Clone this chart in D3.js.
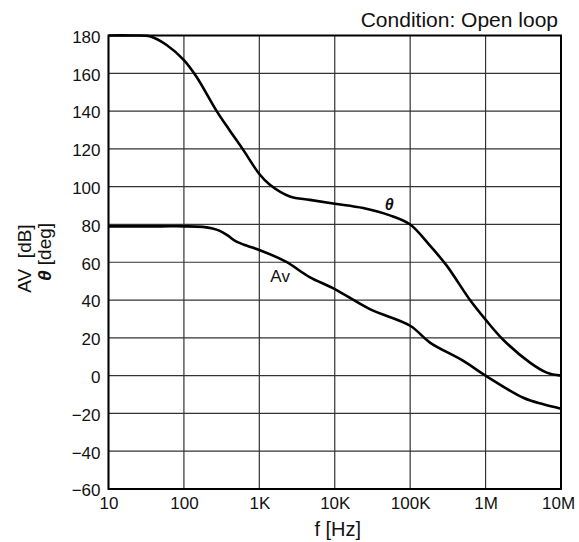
<!DOCTYPE html>
<html>
<head>
<meta charset="utf-8">
<script src="https://cdn.jsdelivr.net/npm/d3@7"></script>
<style>
  html, body { margin: 0; padding: 0; background: #fff; }
  svg { display: block; font-family: "Liberation Sans", Arial, sans-serif; }
</style>
</head>
<body>
<div id="chart"></div>
<script>
const width = 579;
const height = 542;

// phase (theta) curve, deg
const thetaFreq = [10, 20, 36, 59, 100, 146, 272, 401, 600, 1000, 1380, 2540, 4670, 10000, 23800, 53800, 100000, 183000, 305000, 622000, 1000000, 1710000, 3880000, 6470000, 10000000];
const thetaVals = [180, 180, 179.5, 175, 167, 158.3, 140, 130, 120, 106.7, 101, 94.8, 93, 91, 88.7, 84.8, 80, 68.8, 58.2, 40, 29.6, 19, 6.9, 1.6, 0];

// gain (Av) curve, dB
const avFreq = [10, 50, 100, 178, 240, 300, 380, 491, 700, 1000, 2250, 4570, 10000, 29200, 100000, 183000, 507000, 1000000, 3160000, 5840000, 10000000];
const avVals = [79, 79, 79, 78.7, 77.9, 76.6, 74.2, 71, 68.6, 66.5, 60.3, 52.3, 45.8, 35.2, 26.4, 17.5, 7.8, 0, -11.7, -15.2, -17.5];

const xTicks = [10, 100, 1000, 10000, 100000, 1000000, 10000000];
const xTickLabels = ["10", "100", "1K", "10K", "100K", "1M", "10M"];
const yTicks = [-60, -40, -20, 0, 20, 40, 60, 80, 100, 120, 140, 160, 180];

const curveLabels = [
  { text: "Av", f: 1400, v: 49.5, italic: false },
  { text: "θ", f: 46000, v: 87.4, italic: true }
];

const margin = { top: 35.5, right: 18, bottom: 53, left: 108.5 };
const iw = width - margin.left - margin.right;
const ih = height - margin.top - margin.bottom;

const svg = d3.select("#chart")
  .append("svg")
  .attr("width", width)
  .attr("height", height);

const g = svg.append("g")
  .attr("transform", `translate(${margin.left},${margin.top})`);

const x = d3.scaleLog().domain([10, 1e7]).range([0, iw]);
const y = d3.scaleLinear().domain([-60, 180]).range([ih, 0]);

// grid
g.append("g")
  .selectAll("line")
  .data(xTicks)
  .join("line")
  .attr("x1", d => x(d)).attr("x2", d => x(d))
  .attr("y1", 0).attr("y2", ih)
  .attr("stroke", "#333")
  .attr("stroke-width", 1.2);

g.append("g")
  .selectAll("line")
  .data(yTicks)
  .join("line")
  .attr("x1", 0).attr("x2", iw)
  .attr("y1", d => y(d)).attr("y2", d => y(d))
  .attr("stroke", "#333")
  .attr("stroke-width", 1.2);

// axes (labels only)
const xAxis = g.append("g")
  .attr("transform", `translate(0,${ih})`)
  .call(d3.axisBottom(x).tickValues(xTicks).tickSize(0).tickPadding(8)
    .tickFormat((d, i) => xTickLabels[i]));
xAxis.select(".domain").remove();
xAxis.selectAll("text")
  .attr("font-size", 17)
  .attr("fill", "#111")
  .attr("font-family", null);
xAxis.selectAll(".tick:last-child text").attr("dx", "-3");

const yAxis = g.append("g")
  .call(d3.axisLeft(y).tickValues(yTicks).tickSize(0).tickPadding(8));
yAxis.select(".domain").remove();
yAxis.selectAll("text")
  .attr("font-size", 17)
  .attr("fill", "#111")
  .attr("font-family", null)
  .attr("dy", "0.4em");

// frame
g.append("rect")
  .attr("width", iw)
  .attr("height", ih)
  .attr("fill", "none")
  .attr("stroke", "#000")
  .attr("stroke-width", 2);

// curves (smooth through the read points)
const line = d3.line()
  .x(d => x(d[0]))
  .y(d => y(d[1]))
  .curve(d3.curveCatmullRom.alpha(0.5));

g.append("path")
  .datum(thetaFreq.map((f, i) => [f, thetaVals[i]]))
  .attr("d", line)
  .attr("fill", "none")
  .attr("stroke", "#000")
  .attr("stroke-width", 2.6);

g.append("path")
  .datum(avFreq.map((f, i) => [f, avVals[i]]))
  .attr("d", line)
  .attr("fill", "none")
  .attr("stroke", "#000")
  .attr("stroke-width", 2.6);

g.selectAll("text.clabel")
  .data(curveLabels)
  .join("text")
  .attr("class", "clabel")
  .attr("x", d => x(d.f))
  .attr("y", d => y(d.v))
  .attr("font-size", d => d.italic ? 16 : 17)
  .attr("font-weight", d => d.italic ? "bold" : "normal")
  .attr("font-style", d => d.italic ? "italic" : "normal")
  .attr("fill", "#111")
  .text(d => d.text);

// condition note
svg.append("text")
  .attr("x", margin.left + iw - 3)
  .attr("y", 27)
  .attr("text-anchor", "end")
  .attr("font-size", 21)
  .attr("fill", "#111")
  .text("Condition: Open loop");

// x label
svg.append("text")
  .attr("x", margin.left + iw / 2 + 3)
  .attr("y", 536)
  .attr("text-anchor", "middle")
  .attr("font-size", 20)
  .attr("fill", "#111")
  .text("f [Hz]");

// y label (two lines, rotated)
svg.append("text")
  .attr("transform", "translate(31,258.5) rotate(-90)")
  .attr("text-anchor", "middle")
  .attr("font-size", 19)
  .attr("fill", "#111")
  .text("AV\u00a0\u00a0[dB]");

const yl2 = svg.append("text")
  .attr("transform", "translate(51,252) rotate(-90)")
  .attr("text-anchor", "middle")
  .attr("font-size", 19)
  .attr("fill", "#111");
yl2.append("tspan")
  .attr("font-weight", "bold")
  .attr("font-style", "italic")
  .text("θ");
yl2.append("tspan")
  .text("\u00a0[deg]");
</script>
</body>
</html>
